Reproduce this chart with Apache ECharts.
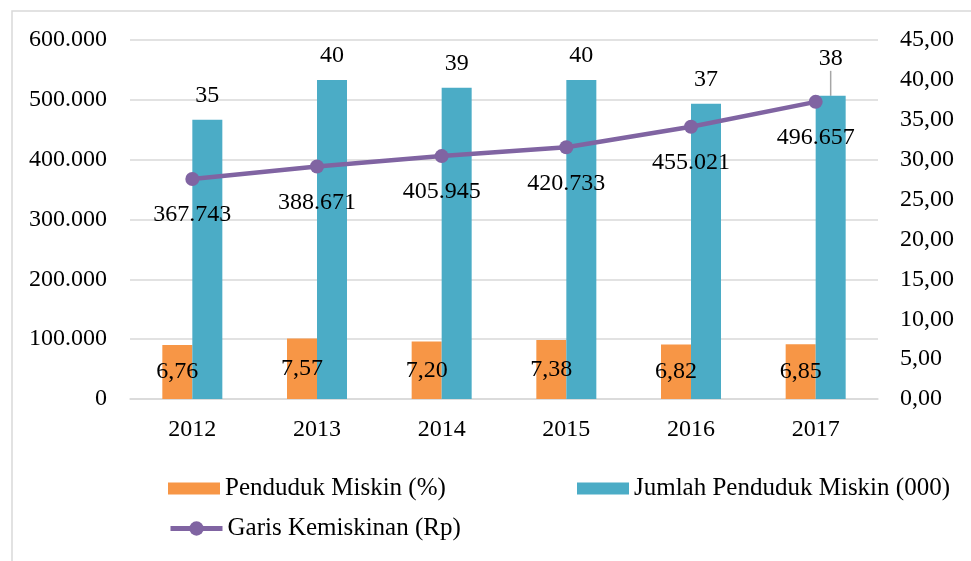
<!DOCTYPE html>
<html>
<head>
<meta charset="utf-8">
<script src="https://cdn.jsdelivr.net/npm/echarts@6/dist/echarts.min.js"></script>
<style>
  html, body { margin: 0; padding: 0; background: #fff; }
  #chart { width: 971px; height: 561px; }
</style>
</head>
<body>
<div id="chart"></div>
<script>
const FONT = '"Palatino Linotype", "Book Antiqua", Palatino, "Liberation Serif", serif';

const povertyData = {
  years: ['2012', '2013', '2014', '2015', '2016', '2017'],
  percent: [6.76, 7.57, 7.20, 7.38, 6.82, 6.85],
  count: [35, 40, 39, 40, 37, 38],
  line: [367743, 388671, 405945, 420733, 455021, 496657]
};

// 600000 -> 600.000
const fmtThousand = v => String(Math.round(v)).replace(/\B(?=(\d{3})+(?!\d))/g, '.');
// 6.76 -> 6,76
const fmtDec = v => Number(v).toFixed(2).replace('.', ',');

const chart = echarts.init(document.getElementById('chart'));

const legendText = { fontFamily: FONT, fontSize: 25, color: '#000' };

// only the last blue label is pushed up with a leader line
const countItems = povertyData.count.map((v, i) => i === povertyData.count.length - 1
  ? { value: v, labelLine: { show: true, lineStyle: { color: '#a6a6a6', width: 1.5 } } }
  : v);

const option = {
  backgroundColor: '#fff',
  textStyle: { fontFamily: FONT },
  animation: false,
  graphic: [{
    type: 'rect',
    shape: { x: 12, y: 11, width: 1000, height: 600 },
    style: { fill: 'none', stroke: '#d9d9d9', lineWidth: 1.5 },
    silent: true
  }],
  legend: [{
    data: [{ name: 'Penduduk Miskin (%)', icon: 'rect' }],
    left: 168,
    top: 476,
    padding: 0,
    itemWidth: 52,
    itemHeight: 12,
    itemGap: 5,
    textStyle: legendText
  }, {
    data: [{ name: 'Jumlah Penduduk Miskin (000)', icon: 'rect' }],
    left: 577,
    top: 476,
    padding: 0,
    itemWidth: 52,
    itemHeight: 12,
    textStyle: legendText
  }, {
    data: ['Garis Kemiskinan (Rp)'],
    left: 168,
    top: 516,
    padding: 0,
    itemWidth: 52,
    itemHeight: 18,
    lineStyle: { width: 5 },
    textStyle: legendText
  }],
  grid: {
    left: 130,
    right: 93,
    top: 40,
    bottom: 162
  },
  xAxis: {
    type: 'category',
    data: povertyData.years,
    axisLine: { lineStyle: { color: '#d9d9d9', width: 1.5 } },
    axisTick: { show: false },
    axisLabel: { color: '#000', fontSize: 24, fontFamily: FONT, margin: 19 }
  },
  yAxis: [{
    type: 'value',
    min: 0,
    max: 600000,
    interval: 100000,
    position: 'left',
    axisLine: { show: false },
    axisTick: { show: false },
    splitLine: { lineStyle: { color: '#d9d9d9', width: 1.5 } },
    axisLabel: {
      color: '#000',
      fontSize: 24,
      fontFamily: FONT,
      margin: 23,
      formatter: v => fmtThousand(v)
    }
  }, {
    type: 'value',
    min: 0,
    max: 45,
    interval: 5,
    position: 'right',
    axisLine: { show: false },
    axisTick: { show: false },
    splitLine: { show: false },
    axisLabel: {
      color: '#000',
      fontSize: 24,
      fontFamily: FONT,
      margin: 22,
      formatter: v => fmtDec(v)
    }
  }],
  series: [{
    name: 'Penduduk Miskin (%)',
    type: 'bar',
    yAxisIndex: 1,
    barWidth: 30,
    barGap: '0%',
    itemStyle: { color: '#f79646' },
    label: {
      show: true,
      position: 'inside',
      color: '#000',
      fontSize: 24,
      fontFamily: FONT,
      formatter: p => fmtDec(p.value)
    },
    data: povertyData.percent
  }, {
    name: 'Jumlah Penduduk Miskin (000)',
    type: 'bar',
    yAxisIndex: 1,
    barWidth: 30,
    itemStyle: { color: '#4bacc6' },
    label: {
      show: true,
      position: 'top',
      distance: 12,
      color: '#000',
      fontSize: 24,
      fontFamily: FONT
    },
    labelLine: { show: false },
    labelLayout: function (params) {
      if (params.dataIndex === 5) {
        return { dy: -13 };
      }
    },
    data: countItems
  }, {
    name: 'Garis Kemiskinan (Rp)',
    type: 'line',
    yAxisIndex: 0,
    symbol: 'circle',
    symbolSize: 14,
    z: 5,
    itemStyle: { color: '#8064a2' },
    lineStyle: { color: '#8064a2', width: 4.5 },
    label: {
      show: true,
      position: 'bottom',
      distance: 17,
      color: '#000',
      fontSize: 24,
      fontFamily: FONT,
      formatter: p => fmtThousand(p.value)
    },
    data: povertyData.line
  }]
};

chart.setOption(option);
</script>
</body>
</html>
